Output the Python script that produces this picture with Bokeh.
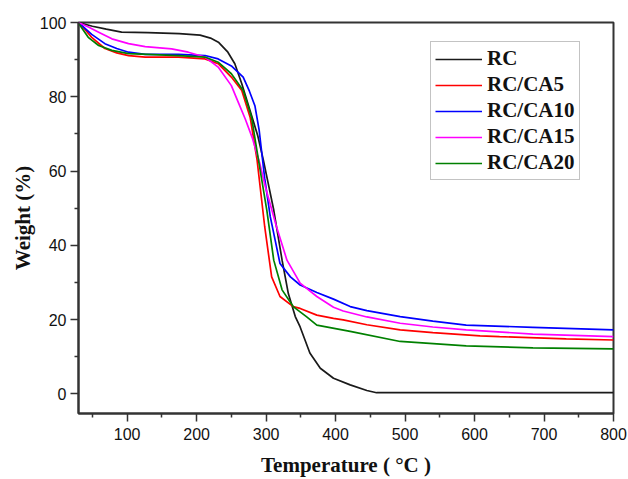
from bokeh.plotting import figure
from bokeh.models import Range1d, FixedTicker, Legend, LegendItem
from bokeh.embed import file_html
from bokeh.resources import INLINE

# ---- data ----
rc_t = [30, 50, 70, 92, 130, 175, 205, 220, 232, 245, 255, 265, 279, 288, 296, 311, 323, 332, 342, 349, 363, 378, 397, 421, 445, 459, 500, 600, 700, 800]
rc_w = [100, 99.0, 98.2, 97.4, 97.3, 97.0, 96.6, 95.8, 94.6, 92.0, 88.9, 83.5, 75.0, 69.5, 63.0, 49.5, 36.0, 27.0, 20.8, 18.0, 11.0, 6.9, 4.2, 2.4, 0.9, 0.3, 0.3, 0.3, 0.3, 0.3]

ca5_t = [30, 40, 49, 68, 85, 102, 126, 174, 212, 231, 250, 265, 277, 287, 298, 308, 320, 339, 349, 373, 397, 411, 445, 493, 540, 608, 636, 732, 800]
ca5_w = [100, 98.0, 96.0, 93.0, 91.8, 91.1, 90.7, 90.7, 90.2, 88.9, 85.3, 81.7, 74.5, 63.0, 45.0, 31.5, 26.2, 23.5, 23.0, 21.2, 20.3, 19.9, 18.6, 17.2, 16.5, 15.6, 15.4, 14.8, 14.5]

ca10_t = [30, 49, 68, 85, 102, 126, 174, 212, 231, 250, 267, 276, 284, 290, 298, 306, 320, 335, 349, 373, 397, 421, 445, 493, 540, 588, 684, 800]
ca10_w = [100, 96.8, 94.3, 93.0, 92.0, 91.4, 91.4, 91.1, 90.2, 88.3, 85.3, 81.5, 77.5, 71.0, 58.0, 47.7, 35.1, 31.5, 29.3, 27.3, 25.5, 23.5, 22.4, 20.8, 19.6, 18.5, 17.9, 17.2]

ca15_t = [30, 45, 59, 78, 102, 126, 164, 188, 212, 231, 250, 260, 270, 280, 291, 299, 315, 330, 349, 373, 397, 411, 445, 493, 540, 588, 684, 800]
ca15_w = [100, 98.7, 97.4, 95.6, 94.3, 93.5, 92.9, 92.0, 90.7, 88.0, 83.0, 78.5, 74.0, 69.0, 62.0, 55.7, 45.0, 36.0, 29.8, 26.2, 23.3, 22.3, 20.7, 19.0, 18.0, 17.2, 16.1, 15.4]

ca20_t = [30, 44, 59, 78, 102, 174, 212, 231, 250, 267, 279, 289, 301, 311, 323, 339, 358, 373, 421, 493, 588, 684, 800]
ca20_w = [99.8, 96.0, 93.8, 92.5, 91.6, 91.1, 90.7, 89.3, 86.2, 81.7, 74.5, 63.0, 49.5, 36.0, 28.0, 23.5, 20.8, 18.5, 16.8, 14.1, 12.9, 12.4, 12.1]

series_names = ["RC", "RC/CA5", "RC/CA10", "RC/CA15", "RC/CA20"]
series_t = [rc_t, ca5_t, ca10_t, ca15_t, ca20_t]
series_w = [rc_w, ca5_w, ca10_w, ca15_w, ca20_w]
series_colors = ["#1a1a1a", "#ff0000", "#0000ff", "#ff00ff", "#008000"]

x_major = [100, 200, 300, 400, 500, 600, 700, 800]
x_minor = [50, 150, 250, 350, 450, 550, 650, 750]
y_major = [0, 20, 40, 60, 80, 100]
y_minor = [10, 30, 50, 70, 90]

p = figure(width=628, height=479, output_backend="svg", toolbar_location=None,
           x_range=Range1d(30, 800), y_range=Range1d(-5.3, 100),
           min_border_left=78, min_border_right=15, min_border_top=22, min_border_bottom=66)
p.background_fill_color = "white"
p.border_fill_color = "white"
p.grid.visible = False
p.outline_line_color = "#333333"
p.outline_line_width = 2

renderers = []
for t, w, c in zip(series_t, series_w, series_colors):
    r = p.line(t, w, line_color=c, line_width=1.7)
    renderers.append(r)

for ax in [p.xaxis[0], p.yaxis[0]]:
    ax.axis_line_color = "#333333"
    ax.axis_line_width = 2
    ax.major_tick_line_color = "#333333"
    ax.minor_tick_line_color = "#333333"
    ax.major_tick_line_width = 1.5
    ax.minor_tick_line_width = 1.5
    ax.major_tick_in = 0
    ax.major_tick_out = 8
    ax.minor_tick_in = 0
    ax.minor_tick_out = 4
    ax.major_label_text_font = "Liberation Sans"
    ax.major_label_text_font_size = "16px"
    ax.major_label_text_color = "#111111"
    ax.axis_label_text_font = "Liberation Serif"
    ax.axis_label_text_font_style = "bold"
    ax.axis_label_text_font_size = "21px"
    ax.axis_label_text_color = "#111111"

p.xaxis[0].ticker = FixedTicker(ticks=x_major, minor_ticks=x_minor)
p.yaxis[0].ticker = FixedTicker(ticks=y_major, minor_ticks=y_minor)
p.xaxis[0].axis_label = "Temperature ( \u00b0C )"
p.yaxis[0].axis_label = "Weight (%)"
p.xaxis[0].major_label_standoff = 6
p.xaxis[0].axis_label_standoff = 10
p.yaxis[0].major_label_standoff = 4
p.yaxis[0].axis_label_standoff = 2

legend = Legend(items=[LegendItem(label=n, renderers=[r]) for n, r in zip(series_names, renderers)],
                location=(352, 233), margin=0, padding=4, spacing=1,
                glyph_width=47, glyph_height=22, label_height=22, label_standoff=5,
                label_text_font="Liberation Serif", label_text_font_style="bold",
                label_text_font_size="21px", label_text_color="#111111",
                border_line_color="#888888", border_line_width=1.5,
                background_fill_color="white", background_fill_alpha=1.0)
p.add_layout(legend)

open("out.html", "w").write(file_html(p, INLINE))
